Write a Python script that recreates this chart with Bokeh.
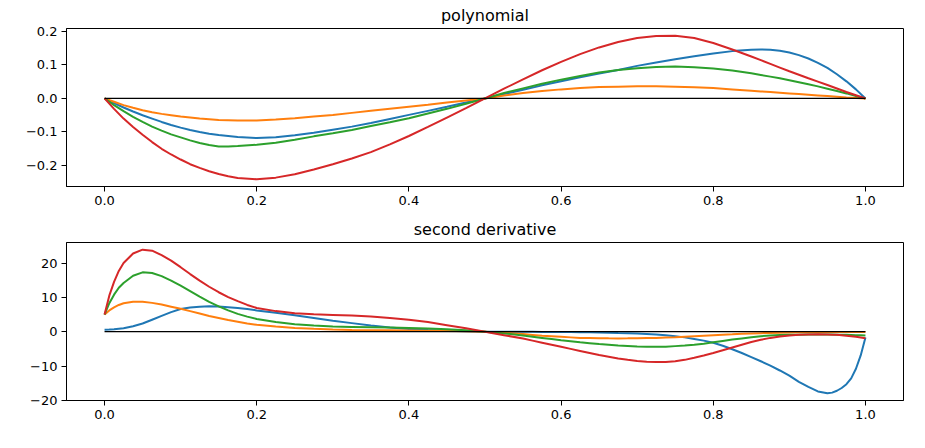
from bokeh.plotting import figure
from bokeh.layouts import column
from bokeh.models import FixedTicker, Range1d
from bokeh.embed import file_html
from bokeh.resources import INLINE

# ---------------- data ----------------
x_poly = [0.0, 0.0125, 0.025, 0.0375, 0.05, 0.0625, 0.075, 0.0875, 0.1, 0.1125,
          0.125, 0.1375, 0.15, 0.1625, 0.175, 0.2, 0.225,
          0.25, 0.275, 0.3, 0.325, 0.35, 0.375, 0.4, 0.425, 0.45, 0.475,
          0.5, 0.525, 0.55, 0.575, 0.6, 0.625, 0.65, 0.675, 0.7, 0.725,
          0.75, 0.775, 0.8, 0.825, 0.85,
          0.8625, 0.875, 0.8875, 0.9, 0.9125, 0.925, 0.9375, 0.95, 0.9625,
          0.975, 0.9875, 1.0]

poly_blue = [0.0, -0.014, -0.027, -0.039, -0.050, -0.060, -0.070, -0.079, -0.087, -0.094,
             -0.100, -0.105, -0.109, -0.112, -0.115, -0.118, -0.116,
             -0.110, -0.102, -0.093, -0.084, -0.073, -0.061, -0.049, -0.037, -0.025, -0.012,
             0.0, 0.013, 0.026, 0.039, 0.051, 0.063, 0.074, 0.085, 0.097, 0.107,
             0.117, 0.126, 0.134, 0.141, 0.145,
             0.146, 0.145, 0.142, 0.137, 0.129, 0.119, 0.106, 0.091, 0.072,
             0.051, 0.027, 0.0]
poly_orange = [0.0, -0.010, -0.020, -0.028, -0.035, -0.041, -0.046, -0.050, -0.054, -0.057,
               -0.060, -0.062, -0.064, -0.065, -0.066, -0.066, -0.063,
               -0.059, -0.054, -0.049, -0.043, -0.037, -0.031, -0.025, -0.019, -0.012, -0.006,
               0.0, 0.009, 0.016, 0.022, 0.027, 0.031, 0.034, 0.035, 0.036, 0.036,
               0.035, 0.033, 0.031, 0.027, 0.023,
               0.021, 0.019, 0.017, 0.015, 0.013, 0.011, 0.009, 0.007, 0.005,
               0.003, 0.0015, 0.0]
poly_green = [0.0, -0.020, -0.038, -0.055, -0.070, -0.084, -0.096, -0.107, -0.116, -0.125,
              -0.133, -0.139, -0.143, -0.1435, -0.142, -0.138, -0.132,
              -0.123, -0.113, -0.104, -0.094, -0.082, -0.071, -0.059, -0.045, -0.031, -0.016,
              0.0, 0.016, 0.030, 0.044, 0.056, 0.067, 0.077, 0.085, 0.090, 0.094,
              0.095, 0.093, 0.089, 0.083, 0.075,
              0.070, 0.065, 0.060, 0.054, 0.048, 0.042, 0.036, 0.029, 0.022,
              0.015, 0.0075, 0.0]
poly_red = [0.0, -0.031, -0.060, -0.085, -0.108, -0.130, -0.150, -0.167, -0.182, -0.196,
            -0.207, -0.217, -0.225, -0.232, -0.237, -0.241, -0.236,
            -0.226, -0.212, -0.196, -0.179, -0.160, -0.137, -0.112, -0.085, -0.057, -0.029,
            0.0, 0.029, 0.057, 0.084, 0.109, 0.132, 0.152, 0.168, 0.180, 0.186,
            0.187, 0.180, 0.165, 0.146, 0.125,
            0.114, 0.103, 0.092, 0.081, 0.0705, 0.060, 0.050, 0.040, 0.0295,
            0.019, 0.0095, 0.0]

x_d2 = [0.0, 0.00625, 0.0125, 0.01875, 0.025, 0.0375, 0.05, 0.0625, 0.075, 0.0875,
        0.1, 0.1125, 0.125, 0.1375, 0.15, 0.1625, 0.175, 0.1875, 0.2,
        0.225, 0.25, 0.275, 0.3, 0.325, 0.35, 0.375, 0.4, 0.425, 0.45, 0.475,
        0.5, 0.525, 0.55,
        0.5625, 0.575, 0.5875, 0.6, 0.6125, 0.625, 0.6375, 0.65, 0.6625, 0.675,
        0.6875, 0.7, 0.7125, 0.725, 0.7375, 0.75, 0.7625, 0.775, 0.7875, 0.8,
        0.8125, 0.825, 0.8375, 0.85, 0.8625, 0.875, 0.8875, 0.9, 0.9125, 0.925,
        0.9375,
        0.95, 0.95625, 0.9625, 0.96875, 0.975, 0.98125, 0.9875, 0.99375, 1.0]

d2_blue = [0.6, 0.62, 0.7, 0.85, 1.0, 1.6, 2.4, 3.5, 4.6, 5.7,
           6.6, 7.05, 7.3, 7.4, 7.35, 7.15, 6.9, 6.6, 6.2,
           5.5, 4.8, 4.0, 3.2, 2.5, 1.8, 1.2, 0.8, 0.5, 0.3, 0.1,
           0.0, 0.0, -0.02,
           -0.03, -0.05, -0.07, -0.1, -0.12, -0.15, -0.18, -0.2, -0.27, -0.35,
           -0.42, -0.5, -0.65, -0.8, -1.05, -1.3, -1.65, -2.1, -2.6, -3.2,
           -4.1, -5.1, -6.2, -7.4, -8.6, -9.9, -11.3, -12.8, -14.6, -16.1,
           -17.4,
           -17.95, -17.75, -17.2, -16.4, -15.3, -13.6, -10.8, -6.9, -1.7]
d2_orange = [5.0, 6.2, 7.1, 7.8, 8.3, 8.75, 8.7, 8.4, 7.9, 7.3,
             6.7, 6.0, 5.3, 4.6, 4.0, 3.4, 2.9, 2.4, 2.0,
             1.5, 1.1, 0.85, 0.65, 0.5, 0.45, 0.4, 0.35, 0.3, 0.2, 0.1,
             0.0, -0.3, -0.7,
             -0.95, -1.2, -1.35, -1.5, -1.65, -1.8, -1.85, -1.9, -1.93, -1.95,
             -1.93, -1.9, -1.85, -1.8, -1.7, -1.6, -1.45, -1.3, -1.15, -1.0,
             -0.87, -0.75, -0.62, -0.5, -0.42, -0.35, -0.27, -0.2, -0.17, -0.15,
             -0.12,
             -0.1, -0.1, -0.1, -0.1, -0.1, -0.1, -0.1, -0.1, -0.1]
d2_green = [5.0, 8.3, 10.8, 12.8, 14.2, 16.3, 17.3, 17.1, 16.2, 14.9,
            13.4, 11.8, 10.2, 8.7, 7.4, 6.2, 5.2, 4.4, 3.7,
            2.8, 2.2, 1.8, 1.5, 1.4, 1.3, 1.2, 1.1, 0.9, 0.7, 0.4,
            0.0, -0.5, -1.1,
            -1.45, -1.8, -2.15, -2.5, -2.8, -3.1, -3.35, -3.6, -3.8, -4.0,
            -4.15, -4.3, -4.38, -4.4, -4.35, -4.2, -4.05, -3.8, -3.5, -3.1,
            -2.7, -2.3, -1.95, -1.6, -1.3, -1.1, -0.95, -0.9, -0.85, -0.8,
            -0.8,
            -0.8, -0.82, -0.85, -0.88, -0.9, -0.95, -1.0, -1.05, -1.1]
d2_red = [5.0, 10.5, 14.5, 17.7, 20.0, 22.8, 23.9, 23.6, 22.3, 20.7,
          18.8, 16.8, 14.9, 13.1, 11.5, 10.1, 8.9, 7.8, 6.9,
          6.0, 5.4, 5.1, 4.9, 4.7, 4.4, 4.0, 3.5, 2.8, 1.9, 1.0,
          0.0, -1.0, -2.0,
          -2.6, -3.2, -3.8, -4.4, -5.0, -5.6, -6.2, -6.8, -7.3, -7.8,
          -8.2, -8.5, -8.75, -8.85, -8.8, -8.6, -8.2, -7.6, -6.95, -6.2,
          -5.4, -4.6, -3.8, -3.0, -2.35, -1.8, -1.4, -1.1, -0.9, -0.8,
          -0.75,
          -0.8, -0.85, -0.9, -1.0, -1.15, -1.3, -1.5, -1.7, -1.9]

x_ticks = [0.0, 0.2, 0.4, 0.6, 0.8, 1.0]
x_tick_labels = ["0.0", "0.2", "0.4", "0.6", "0.8", "1.0"]
poly_ticks = [-0.2, -0.1, 0.0, 0.1, 0.2]
poly_tick_labels = ["\u22120.2", "\u22120.1", "0.0", "0.1", "0.2"]
d2_ticks = [-20, -10, 0, 10, 20]
d2_tick_labels = ["\u221220", "\u221210", "0", "10", "20"]

titles = ["polynomial", "second derivative"]
colors = ["#1f77b4", "#ff7f0e", "#2ca02c", "#d62728"]

for arr in (poly_blue, poly_orange, poly_green, poly_red):
    assert len(arr) == len(x_poly), len(arr)
for arr in (d2_blue, d2_orange, d2_green, d2_red):
    assert len(arr) == len(x_d2), len(arr)

FONT = "DejaVu Sans"


def padded(lo, hi, frac=0.05):
    span = hi - lo
    return lo - frac * span, hi + frac * span


def make_fig(title, height, top, bottom, xs, series, yticks, ylabels):
    allv = [v for s in series for v in s]
    x0, x1 = padded(min(xs), max(xs))
    y0, y1 = padded(min(allv), max(allv))
    p = figure(width=915, height=height, output_backend="svg",
               toolbar_location=None,
               x_range=Range1d(x0, x1), y_range=Range1d(y0, y1),
               min_border_left=66, min_border_right=12,
               min_border_top=top, min_border_bottom=bottom)
    p.title.text = title
    p.title.text_font = FONT
    p.title.text_font_size = "16px"
    p.title.text_font_style = "normal"
    p.title.text_color = "black"
    p.title.align = "center"
    p.title.standoff = 7
    p.xgrid.visible = False
    p.ygrid.visible = False
    p.outline_line_color = "black"
    p.outline_line_alpha = 1.0
    p.outline_line_width = 1
    p.background_fill_color = "white"
    p.border_fill_color = "white"

    p.xaxis.ticker = FixedTicker(ticks=x_ticks)
    p.xaxis.major_label_overrides = dict(zip(x_ticks, x_tick_labels))
    p.yaxis.ticker = FixedTicker(ticks=yticks)
    p.yaxis.major_label_overrides = dict(zip(yticks, ylabels))
    for ax in (p.xaxis[0], p.yaxis[0]):
        ax.major_label_text_font = FONT
        ax.major_label_text_font_size = "13px"
        ax.major_label_text_color = "black"
        ax.minor_tick_line_color = None
        ax.major_tick_in = 0
        ax.major_tick_out = 5
        ax.major_tick_line_color = "black"
        ax.axis_line_color = "black"
        ax.major_label_standoff = 4

    for s, c in zip(series, colors):
        p.line(xs, s, line_color=c, line_width=2)
    p.segment(x0=[min(xs)], y0=[0], x1=[max(xs)], y1=[0],
              line_color="black", line_width=1.2)
    return p


p1 = make_fig(titles[0], 214, 28, 28, x_poly,
              [poly_blue, poly_orange, poly_green, poly_red],
              poly_ticks, poly_tick_labels)
p2 = make_fig(titles[1], 226, 28, 40, x_d2,
              [d2_blue, d2_orange, d2_green, d2_red],
              d2_ticks, d2_tick_labels)

layout = column(p1, p2, spacing=0)
open("out.html", "w").write(file_html(layout, INLINE))
